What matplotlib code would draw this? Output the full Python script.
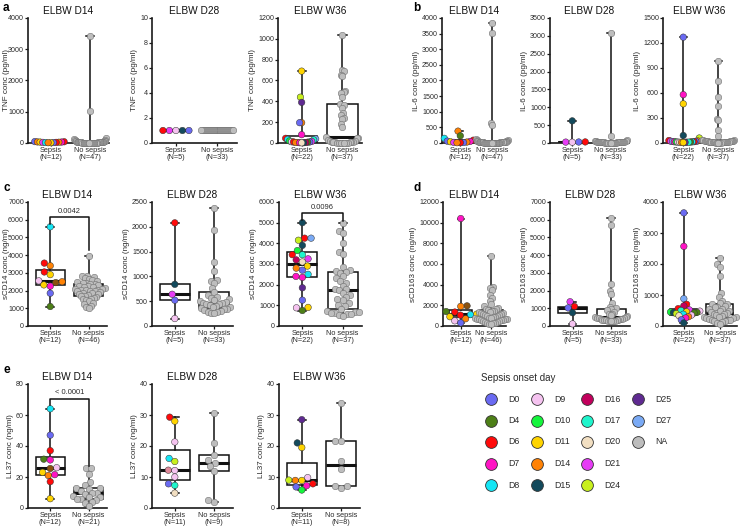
import numpy as np
import matplotlib
matplotlib.use('Agg')
import matplotlib.pyplot as plt

plt.rcParams['font.family'] = ['Liberation Sans', 'DejaVu Sans']

# ---------------- legend / colours ----------------
onset_days = ['D0', 'D4', 'D6', 'D7', 'D8', 'D9', 'D10', 'D11', 'D14', 'D15',
              'D16', 'D17', 'D20', 'D21', 'D24', 'D25', 'D27', 'NA']
onset_colors = ['#6a6af2', '#4d7f17', '#ff0a0a', '#ff14c4', '#14e6f5', '#f5c3f0',
                '#14f53c', '#ffd400', '#ff8205', '#134a5c', '#c2005c', '#1ff5cc',
                '#f2dfc2', '#e63cf5', '#c8f01e', '#5f2a91', '#7aaaf5', '#bdbdbd']
unlisted_days = ['brown', 'rose']
unlisted_colors = ['#8a5210', '#e0899a']

# ---------------- data ----------------
# a: TNF (pg/ml)
tnf_d14_sep = [45, 40, 35, 30, 30, 25, 20, 20, 15, 15, 10, 10]
tnf_d14_sep_day = ['D0', 'D6', 'D14', 'D11', 'D7', 'D14', 'D6', 'D21', 'D0', 'D8', 'D11', 'D14']
tnf_d14_no = [3420, 1010, 150, 120, 90, 80, 70, 60, 55, 50, 45, 40, 40, 35, 35, 30, 30, 28,
              25, 25, 22, 20, 20, 18, 18, 15, 15, 15, 12, 12, 10, 10, 10, 8, 8, 8, 6, 6, 5,
              5, 5, 4, 4, 3, 3, 2, 2]
tnf_d28_sep = [1, 1, 1, 1, 1]
tnf_d28_sep_day = ['D9', 'D21', 'D15', 'D6', 'D0']
tnf_d28_no = [1, 1, 1, 1, 1, 1, 1, 1, 1, 1, 1, 1, 1, 1, 1, 1, 1, 1, 1, 1, 1, 1, 1, 1, 1, 1,
              1, 1, 1, 1, 1, 1, 1]
tnf_w36_sep = [690, 440, 390, 195, 195, 80, 45, 40, 35, 30, 20, 15, 12, 10, 10, 8, 5, 5, 5, 3, 3, 2]
tnf_w36_sep_day = ['D11', 'D24', 'D25', 'D14', 'D0', 'D7', 'D6', 'D27', 'D8', 'D17', 'D10',
                   'D21', 'D9', 'D6', 'D0', 'D4', 'D11', 'D16', 'D14', 'D7', 'D15', 'D20']
tnf_w36_no = [1040, 705, 690, 650, 640, 500, 490, 480, 440, 370, 360, 340, 290, 270, 240, 230,
              185, 150, 55, 50, 45, 30, 20, 15, 10, 10, 8, 5, 5, 5, 3, 3, 2, 2, 1, 1, 1]

# b: IL-6 (pg/ml)
il6_d14_sep = [380, 230, 150, 90, 60, 50, 40, 30, 20, 15, 10, 10]
il6_d14_sep_day = ['D14', 'D4', 'D8', 'D6', 'D0', 'D7', 'D11', 'D14', 'D21', 'D0', 'D6', 'D14']
il6_d14_no = [3850, 3530, 640, 560, 120, 100, 80, 70, 60, 55, 50, 45, 40, 40, 35, 35, 30, 30,
              28, 25, 25, 22, 20, 20, 18, 18, 15, 15, 15, 12, 12, 10, 10, 10, 8, 8, 8, 6, 6, 5,
              5, 5, 4, 4, 3, 3, 2]
il6_d28_sep = [620, 30, 28, 25, 22]
il6_d28_sep_day = ['D15', 'D6', 'D0', 'D21', 'D9']
il6_d28_no = [3080, 200, 90, 60, 50, 45, 40, 38, 35, 32, 30, 28, 26, 25, 24, 22, 20, 20, 18,
              16, 15, 14, 12, 12, 10, 10, 8, 8, 6, 6, 5, 4, 3]
il6_w36_sep = [1270, 580, 470, 90, 60, 30, 25, 22, 20, 18, 16, 15, 14, 13, 12, 11, 10, 10, 9, 8, 7, 6]
il6_w36_sep_day = ['D0', 'D7', 'D11', 'D15', 'D24', 'D6', 'D14', 'D21', 'D0', 'D27', 'D6',
                   'D7', 'D8', 'D10', 'D4', 'D9', 'D16', 'D17', 'D20', 'D25', 'D14', 'D11']
il6_w36_no = [985, 740, 555, 445, 290, 270, 160, 80, 40, 35, 30, 28, 26, 25, 24, 22, 20, 20,
              18, 16, 15, 14, 12, 12, 10, 10, 9, 8, 8, 7, 6, 6, 5, 4, 3, 2, 1]

# c: sCD14 (ng/ml)
scd14_d14_sep = [5600, 3550, 3400, 3050, 2900, 2550, 2500, 2450, 2320, 2250, 1850, 1100]
scd14_d14_sep_day = ['D8', 'D6', 'D14', 'D6', 'D11', 'D9', 'D14', 'brown', 'D11', 'D7', 'D0', 'D4']
scd14_d14_no = [3950, 2850, 2800, 2750, 2700, 2650, 2600, 2550, 2500, 2450, 2400,
                2380, 2350, 2300, 2280, 2250, 2200, 2180, 2150, 2100, 2080, 2060,
                2050, 2020, 2000, 1980, 1950, 1900, 1880, 1850, 1800, 1780, 1750, 1720,
                1680, 1650, 1600, 1550, 1500, 1450, 1400, 1300, 1250, 1150, 1050, 1000]
scd14_d28_sep = [2080, 840, 640, 520, 150]
scd14_d28_sep_day = ['D6', 'D15', 'D21', 'D0', 'D9']
scd14_d28_no = [2370, 1940, 1300, 1110, 930, 900, 870, 760, 680, 620, 580, 560, 540, 520, 500,
                480, 470, 460, 450, 440, 420, 400, 390, 380, 360, 350, 340, 320, 300, 290,
                280, 270, 260]
scd14_w36_sep = [5000, 4250, 4250, 4150, 3900, 3650, 3450, 3450, 3250, 3200, 3100, 2900, 2800,
                 2700, 2500, 2400, 2350, 1850, 1250, 900, 880, 750]
scd14_w36_sep_day = ['D15', 'D6', 'D27', 'D24', 'D15', 'D10', 'D17', 'D6', 'D21', 'D16', 'D20',
                     'D11', 'D14', 'D0', 'D8', 'D7', 'D7', 'D25', 'D0', 'D11', 'D9', 'D4']
scd14_w36_no = [4980, 4600, 4500, 4000, 3600, 3500, 2850, 2700, 2650, 2600, 2550, 2400, 2300,
                2200, 2100, 1950, 1800, 1780, 1750, 1600, 1500, 1400, 1300, 1250, 1100, 1000,
                950, 800, 750, 700, 700, 650, 650, 600, 600, 550, 500]

# d: sCD163 (ng/ml)
scd163_d14_sep = [10400, 1950, 1900, 1400, 1350, 1150, 1100, 1050, 900, 700, 500, 300]
scd163_d14_sep_day = ['D7', 'brown', 'D14', 'D4', 'D6', 'D11', 'D8', 'D6', 'D11', 'D14', 'D9', 'D0']
scd163_d14_no = [6800, 3800, 3650, 3450, 3000, 2700, 2400, 2100, 1900, 1750, 1650, 1600,
                 1550, 1500, 1450, 1400, 1350, 1300, 1250, 1200, 1150, 1100, 1050,
                 1000, 950, 900, 850, 800, 780, 750, 720, 700, 680, 650,
                 620, 600, 550, 500, 450, 400, 350, 300, 280, 250, 220, 200]
scd163_d28_sep = [1370, 1100, 1020, 750, 120]
scd163_d28_sep_day = ['D21', 'D6', 'D0', 'D15', 'D9']
scd163_d28_no = [6100, 5700, 2350, 2000, 1800, 1300, 1100, 1000, 950, 900, 800, 700, 650, 600,
                 550, 500, 480, 460, 450, 440, 420, 400, 380, 360, 350, 340, 330, 320, 310,
                 300, 290, 280, 260]
scd163_w36_sep = [3650, 2570, 880, 700, 650, 560, 520, 500, 480, 460, 450, 440, 430, 420, 400,
                  380, 350, 330, 300, 260, 200, 100]
scd163_w36_sep_day = ['D0', 'D7', 'D27', 'D6', 'D16', 'D6', 'D21', 'D17', 'D9', 'D11', 'D10',
                      'D4', 'D15', 'D4', 'D24', 'D8', 'D9', 'D20', 'D14', 'D7', 'D0', 'D15']
scd163_w36_no = [2200, 2000, 1900, 1600, 1050, 950, 800, 750, 700, 700, 650, 600, 600, 550,
                 550, 500, 500, 450, 420, 400, 380, 350, 330, 300, 300, 280, 250, 250, 220,
                 200, 200, 180, 150, 150, 120, 100, 80]

# e: LL37 (ng/ml)
ll37_d14_sep = [64, 47, 37, 31.5, 31, 26, 25.5, 23, 21.5, 21, 17, 6]
ll37_d14_sep_day = ['D8', 'D0', 'D6', 'D4', 'D7', 'D9', 'brown', 'D11', 'D7', 'D14', 'D6', 'D11']
ll37_d14_no = [25.5, 25.5, 22, 16.5, 15, 13, 13, 12, 11, 10, 9.5, 9, 8, 7, 7, 6, 6, 5, 4, 3.5, 1]
ll37_d28_sep = [29.3, 28, 21.3, 16, 15, 12.2, 12.1, 10, 7.8, 7.3, 4.8]
ll37_d28_sep_day = ['D6', 'D11', 'D9', 'D8', 'D24', 'rose', 'D9', 'D9', 'D0', 'D17', 'D20']
ll37_d28_no = [30.5, 21, 17, 15.5, 14.5, 13.5, 12, 2.5, 2]
ll37_w36_sep = [28.5, 21, 19.5, 9.8, 9, 8.9, 8.9, 7.8, 7.2, 6.8, 5.8]
ll37_w36_sep_day = ['D25', 'D15', 'D11', 'D9', 'D24', 'D11', 'D14', 'D6', 'D7', 'D0', 'D10']
ll37_w36_no = [33.8, 21.5, 21.5, 15.3, 12.5, 7, 7, 6.5]

titles = ['ELBW D14', 'ELBW D28', 'ELBW W36']
group_names = ['Sepsis', 'No sepsis']

# ---------------- layout (pixels) ----------------
W, H = 741, 528
fig = plt.figure(figsize=(W / 100, H / 100), dpi=100)
color_of = dict(zip(onset_days + unlisted_days, onset_colors + unlisted_colors))

TXT = '#2a2a2a'
DOT_D = 6.5  # px


def swarm_x(ax, x0, vals, maxw):
    vals = np.asarray(vals, float)
    pts = ax.transData.transform(np.column_stack([np.full(len(vals), x0), vals]))
    ys = pts[:, 1]
    order = np.argsort(ys, kind='stable')
    placed = []
    offs = np.zeros(len(vals))
    d = DOT_D
    for i in order:
        y = ys[i]
        cands = [0.0]
        for px, py in placed:
            dy = y - py
            if abs(dy) < d:
                dx = np.sqrt(d * d - dy * dy)
                cands += [px + dx, px - dx]
        cands = sorted(cands, key=lambda c: (abs(c), c))
        chosen = cands[-1]
        for c in cands:
            if all((c - px) ** 2 + (y - py) ** 2 >= d * d - 1e-6 for px, py in placed):
                chosen = c
                break
        offs[i] = chosen
        placed.append((chosen, y))
    m = np.abs(offs).max()
    if m > maxw:
        offs = offs * maxw / m
    ppu = ax.transData.transform((1, 0))[0] - ax.transData.transform((0, 0))[0]
    return x0 + offs / ppu


def panel(px_left, px_right, px_top, px_bottom, sep, sep_day, no, ymax, ystep,
          ylabel, title, n_sep, n_no, bracket=None, label_right_px=None):
    wpx = px_right - px_left
    ax = fig.add_axes([px_left / W, 1 - px_bottom / H, wpx / W, (px_bottom - px_top) / H])
    ax.set_xlim(0.42, 2.48)
    ax.set_ylim(0, ymax)
    for s in ['top', 'right']:
        ax.spines[s].set_visible(False)
    for s in ['left', 'bottom']:
        ax.spines[s].set_color('#1a1a1a')
        ax.spines[s].set_linewidth(1.2)
    ticks = np.arange(0, ymax + ystep / 2, ystep)
    ax.set_yticks(ticks)
    ax.set_yticklabels([f'{int(v)}' for v in ticks])
    ax.set_xticks([1, 2])
    ax.set_xticklabels([f'{group_names[0]}\n(N={n_sep})', f'{group_names[1]}\n(N={n_no})'])
    ax.tick_params(axis='both', direction='out', length=2.2, width=0.9, color='#1a1a1a',
                   labelsize=5.1, labelcolor=TXT, pad=0.6)
    ax.tick_params(axis='x', labelsize=5.3)
    for t in ax.get_xticklabels():
        t.set_linespacing(0.95)
    ax.set_ylabel(ylabel, fontsize=5.8, color=TXT, labelpad=1.5)
    if label_right_px is not None:
        ax.yaxis.set_label_coords((label_right_px - px_left) / wpx, 0.5)
    ax.set_title(title, fontsize=7.3, color='#111', pad=3)

    ax.boxplot([sep, no], positions=[1, 2], whis=(0, 100), widths=0.75, showfliers=False,
               patch_artist=True, manage_ticks=False, capwidths=0.2,
               boxprops=dict(facecolor='white', edgecolor='#111', linewidth=1.1),
               whiskerprops=dict(color='#111', linewidth=1.1),
               capprops=dict(color='#111', linewidth=1.1),
               medianprops=dict(color='#111', linewidth=2.2), zorder=2)
    ms = (DOT_D * 72 / 100) ** 2
    xs = swarm_x(ax, 1, sep, 16)
    ax.scatter(xs, sep, s=ms, c=[color_of[d] for d in sep_day], edgecolors='#333',
               linewidths=0.35, zorder=3, clip_on=False)
    xn = swarm_x(ax, 2, no, 16)
    ax.scatter(xn, no, s=ms, c=color_of['NA'], edgecolors='#666', linewidths=0.35,
               zorder=3, clip_on=False)
    if bracket is not None:
        yl, yr, yt, txt = bracket
        ax.plot([1, 1, 2, 2], [yl, yt, yt, yr], color='#111', lw=1.1, zorder=4, clip_on=False)
        ax.text(1.5, yt + ymax * 0.02, txt, ha='center', va='bottom', fontsize=5.4, color=TXT)
    return ax


rowA = (18, 143)
rowC = (202, 326)
rowE = (384, 508)
colsA = [(28, 109), (152, 237), (278, 362), (442, 507), (550, 629), (663, 735)]
colsC = [(28, 107), (152, 233), (279, 362), (443, 506), (550, 630), (663, 737)]
colsE = [(28, 107), (152, 233), (279, 360)]

tnf_lab = 'TNF conc (pg/ml)'
il6_lab = 'IL-6 conc (pg/ml)'
s14_lab = 'sCD14 conc (ng/ml)'
s163_lab = 'sCD163 conc (ng/ml)'
ll_lab = 'LL37 conc (ng/ml)'

panel(*colsA[0], *rowA, tnf_d14_sep, tnf_d14_sep_day, tnf_d14_no, 4000, 1000, tnf_lab, titles[0], 12, 47,
      label_right_px=9.6)
panel(*colsA[1], *rowA, tnf_d28_sep, tnf_d28_sep_day, tnf_d28_no, 10, 2, tnf_lab, titles[1], 5, 33)
panel(*colsA[2], *rowA, tnf_w36_sep, tnf_w36_sep_day, tnf_w36_no, 1200, 200, tnf_lab, titles[2], 22, 37)
panel(*colsA[3], *rowA, il6_d14_sep, il6_d14_sep_day, il6_d14_no, 4000, 500, il6_lab, titles[0], 12, 47)
panel(*colsA[4], *rowA, il6_d28_sep, il6_d28_sep_day, il6_d28_no, 3500, 500, il6_lab, titles[1], 5, 33)
panel(*colsA[5], *rowA, il6_w36_sep, il6_w36_sep_day, il6_w36_no, 1500, 300, il6_lab, titles[2], 22, 37)

panel(*colsC[0], *rowC, scd14_d14_sep, scd14_d14_sep_day, scd14_d14_no, 7000, 1000, s14_lab, titles[0], 12, 46,
      bracket=(5750, 4300, 6150, '0.0042'), label_right_px=9.6)
panel(*colsC[1], *rowC, scd14_d28_sep, scd14_d28_sep_day, scd14_d28_no, 2500, 500, s14_lab, titles[1], 5, 33)
panel(*colsC[2], *rowC, scd14_w36_sep, scd14_w36_sep_day, scd14_w36_no, 6000, 1000, s14_lab, titles[2], 22, 37,
      bracket=(5150, 5100, 5450, '0.0096'))
panel(*colsC[3], *rowC, scd163_d14_sep, scd163_d14_sep_day, scd163_d14_no, 12000, 2000, s163_lab, titles[0], 12, 46)
panel(*colsC[4], *rowC, scd163_d28_sep, scd163_d28_sep_day, scd163_d28_no, 7000, 1000, s163_lab, titles[1], 5, 33)
panel(*colsC[5], *rowC, scd163_w36_sep, scd163_w36_sep_day, scd163_w36_no, 4000, 1000, s163_lab, titles[2], 22, 37)

panel(*colsE[0], *rowE, ll37_d14_sep, ll37_d14_sep_day, ll37_d14_no, 80, 20, ll_lab, titles[0], 12, 21,
      bracket=(66.5, 27, 70.5, '< 0.0001'))
panel(*colsE[1], *rowE, ll37_d28_sep, ll37_d28_sep_day, ll37_d28_no, 40, 10, ll_lab, titles[1], 11, 9)
panel(*colsE[2], *rowE, ll37_w36_sep, ll37_w36_sep_day, ll37_w36_no, 40, 10, ll_lab, titles[2], 11, 8)

# panel letters
for lt, (x, y) in zip('abcde', [(3, 8), (413, 8), (3, 188), (413, 188), (3, 370)]):
    fig.text(x / W, 1 - y / H, lt, fontsize=8.5, fontweight='bold', va='center', ha='left')

# legend (manual grid)
lax = fig.add_axes([0, 0, 1, 1])
lax.set_xlim(0, W)
lax.set_ylim(H, 0)
lax.axis('off')
lax.text(481, 378, 'Sepsis onset day', fontsize=7, color=TXT, va='center', ha='left')
col_mx = [491, 537, 587, 638]
row_my = [399, 420.5, 442, 463.5, 485]
for k, (day, colr) in enumerate(zip(onset_days, onset_colors)):
    ci, ri = divmod(k, 5)
    lax.scatter([col_mx[ci]], [row_my[ri]], s=72, color=colr, edgecolors='#333', linewidths=0.6)
    lax.text(col_mx[ci] + 17, row_my[ri], day, fontsize=6.3, color=TXT, va='center', ha='left')

fig.savefig('out.png', dpi=100)
